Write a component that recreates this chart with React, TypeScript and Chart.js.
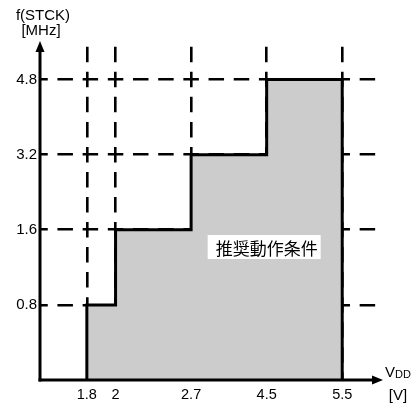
import React, { useEffect, useRef } from "react";
import { Chart, registerables } from "chart.js";

Chart.register(...registerables);

// ---- data ----
const voltages = [1.8, 2, 2.7, 4.5, 5.5]; // VDD [V] boundaries
const frequencies = [0.8, 1.6, 3.2, 4.8]; // f(STCK) [MHz] per range [v_i, v_i+1]
const voltageLabels = ["1.8", "2", "2.7", "4.5", "5.5"];
const frequencyLabels = ["0.8", "1.6", "3.2", "4.8"];
const regionLabel = "推奨動作条件";

// schematic (non-linear) axis layout: where each tick value sits on the axis
const xAxisSlots = [0.62, 1, 2, 3, 4];
const yAxisSlots = [1, 2, 3, 4];
const AXIS_MAX = 4.5;

const W = 415;
const H = 410;
const PAD = { top: 42, right: 35, left: 0, bottom: 0 };
const Y_AXIS_W = 40;
const X_AXIS_H = 30;
const FONT = "Liberation Sans, Arimo, Arial, sans-serif";

const areaW = W - PAD.left - PAD.right - Y_AXIS_W;
const areaH = H - PAD.top - PAD.bottom - X_AXIS_H;
const DASH = 15.5;
const pX = areaW / AXIS_MAX / 3;
const pY = areaH / AXIS_MAX / 3;

Chart.defaults.font.family = FONT;

function toSlot(v: number, values: number[], slots: number[]) {
  if (v === 0) return 0;
  const i = values.indexOf(v);
  return slots[i];
}
const xs = (v: number) => toSlot(v, voltages, xAxisSlots);
const ys = (f: number) => toSlot(f, frequencies, yAxisSlots);

function buildOutline() {
  const pts: { x: number; y: number }[] = [{ x: xs(voltages[0]), y: 0 }];
  frequencies.forEach((f, i) => {
    pts.push({ x: xs(voltages[i]), y: ys(f) });
    pts.push({ x: xs(voltages[i + 1]), y: ys(f) });
  });
  pts.push({ x: xs(voltages[voltages.length - 1]), y: 0 });
  return pts;
}

const overlay = {
  id: "overlay",
  afterDraw(chart: any) {
    const ctx = chart.ctx as CanvasRenderingContext2D;
    const a = chart.chartArea;
    const xS = chart.scales.x;
    const yS = chart.scales.y;
    ctx.save();
    ctx.strokeStyle = "#000";
    ctx.fillStyle = "#000";
    ctx.lineWidth = 3;
    ctx.setLineDash([]);
    // y axis
    ctx.beginPath();
    ctx.moveTo(a.left, a.bottom + 1.5);
    ctx.lineTo(a.left, a.top + 8);
    ctx.stroke();
    ctx.beginPath();
    ctx.moveTo(a.left, a.top - 1);
    ctx.lineTo(a.left - 4.5, a.top + 10);
    ctx.lineTo(a.left + 4.5, a.top + 10);
    ctx.closePath();
    ctx.fill();
    // x axis
    ctx.beginPath();
    ctx.moveTo(a.left - 1.5, a.bottom);
    ctx.lineTo(a.right - 6, a.bottom);
    ctx.stroke();
    ctx.beginPath();
    ctx.moveTo(a.right + 3, a.bottom);
    ctx.lineTo(a.right - 8, a.bottom - 4.5);
    ctx.lineTo(a.right - 8, a.bottom + 4.5);
    ctx.closePath();
    ctx.fill();

    // axis titles
    ctx.textAlign = "center";
    ctx.textBaseline = "middle";
    ctx.font = `15px ${FONT}`;
    ctx.fillText("f(STCK)", 43, 16);
    ctx.fillText("[MHz]", 41, 31);
    ctx.textAlign = "left";
    ctx.font = `15px ${FONT}`;
    ctx.fillText("V", 385, 373);
    const vw = ctx.measureText("V").width;
    ctx.font = `11px ${FONT}`;
    ctx.fillText("DD", 385 + vw, 374.5);
    ctx.textAlign = "center";
    ctx.font = `15px ${FONT}`;
    ctx.fillText("[V]", 398, 396);

    // region label
    ctx.font = `17px 'Noto Sans CJK JP', sans-serif`;
    const cx = xS.getPixelForValue(3.0);
    const cy = yS.getPixelForValue(1.77);
    const tw = ctx.measureText(regionLabel).width;
    ctx.fillStyle = "#fff";
    ctx.fillRect(cx - tw / 2 - 8, cy - 12, tw + 11, 24);
    ctx.fillStyle = "#000";
    ctx.fillText(regionLabel, cx, cy + 1);
    ctx.restore();
  },
};

export default function App() {
  const ref = useRef<HTMLCanvasElement | null>(null);
  useEffect(() => {
    if (!ref.current) return;
    const chart = new Chart(ref.current, {
      type: "line",
      data: {
        datasets: [
          {
            data: buildOutline(),
            borderColor: "#000",
            borderWidth: 3,
            backgroundColor: "#cccccc",
            fill: "origin",
            pointRadius: 0,
            tension: 0,
            borderJoinStyle: "miter",
          } as any,
        ],
      },
      options: {
        responsive: false,
        animation: false,
        devicePixelRatio: 1,
        layout: { padding: PAD },
        plugins: { legend: { display: false }, tooltip: { enabled: false } },
        scales: {
          x: {
            type: "linear",
            min: 0,
            max: AXIS_MAX,
            z: 1,
            afterFit: (s: any) => {
              s.height = X_AXIS_H;
            },
            afterBuildTicks: (s: any) => {
              s.ticks = xAxisSlots.map((v) => ({ value: v }));
            },
            grid: { drawTicks: false, color: "#000", lineWidth: 2.6 },
            border: {
              display: false,
              dash: [DASH, pY - DASH],
              dashOffset: DASH / 2 - pY / 2,
            },
            ticks: {
              autoSkip: false,
              maxRotation: 0,
              minRotation: 0,
              padding: 6,
              color: "#000",
              font: { family: FONT, size: 14.5 },
              callback: (_v: any, i: number) => voltageLabels[i],
            },
          },
          y: {
            type: "linear",
            min: 0,
            max: AXIS_MAX,
            z: 1,
            afterFit: (s: any) => {
              s.width = Y_AXIS_W;
            },
            afterBuildTicks: (s: any) => {
              s.ticks = yAxisSlots.map((v) => ({ value: v }));
            },
            grid: { drawTicks: false, color: "#000", lineWidth: 2.6 },
            border: {
              display: false,
              dash: [DASH, pX - DASH],
              dashOffset: DASH / 2,
            },
            ticks: {
              autoSkip: false,
              padding: 3,
              color: "#000",
              font: { family: FONT, size: 15 },
              callback: (_v: any, i: number) => frequencyLabels[i],
            },
          },
        },
      } as any,
      plugins: [overlay],
    });
    return () => chart.destroy();
  }, []);
  return (
    <div style={{ position: "absolute", left: 0, top: 0, width: W, height: H, background: "#fff" }}>
      <canvas ref={ref} width={W} height={H} style={{ width: W, height: H }} />
    </div>
  );
}
